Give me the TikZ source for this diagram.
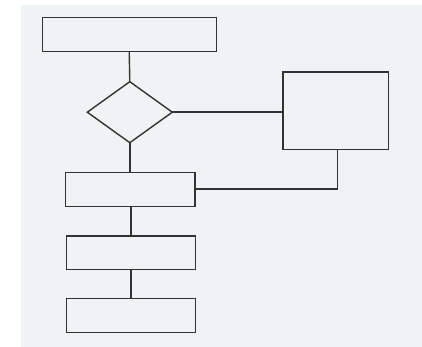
\documentclass[tikz,border=0pt]{standalone}
\usetikzlibrary{shapes.geometric}
\definecolor{paper}{HTML}{F0F3F3}
\definecolor{ink}{HTML}{333333}
\begin{document}
\begin{tikzpicture}[x=1pt,y=-1pt,
  box/.style={draw=ink,line width=1.4pt,fill=paper,inner sep=0pt,outer sep=0pt},
  link/.style={draw=ink,line width=1.4pt}]
\fill[white] (0,0) rectangle (422,347);
\fill[paper] (21,5) rectangle (422,347);
\useasboundingbox (0,0) rectangle (422,347);
\node[box,minimum width=174pt,minimum height=34pt] (top) at (129.2,34.3) {};
\node[box,diamond,minimum width=85pt,minimum height=61pt] (dec) at (129.8,112.2) {};
\node[box,minimum width=105.7pt,minimum height=77.7pt] (side) at (335.8,110.8) {};
\node[box,minimum width=129.3pt,minimum height=33.6pt] (r2) at (130.4,189.5) {};
\node[box,minimum width=129pt,minimum height=33.3pt] (r3) at (130.8,252.6) {};
\node[box,minimum width=129pt,minimum height=33.6pt] (r4) at (131.2,315.5) {};
\coordinate (bend) at (337.3,189);
\draw[link] (top.south) -- (dec.north);
\draw[link] (dec.east) -- (dec.east -| side.west);
\draw[link] (dec.south) -- (dec.south |- r2.north);
\draw[link] (side.south -| bend) -- (bend) -- (bend -| r2.east);
\draw[link] (r2.south -| r3.north) -- (r3.north);
\draw[link] (r3.south) -- (r3.south |- r4.north);
\end{tikzpicture}
\end{document}
